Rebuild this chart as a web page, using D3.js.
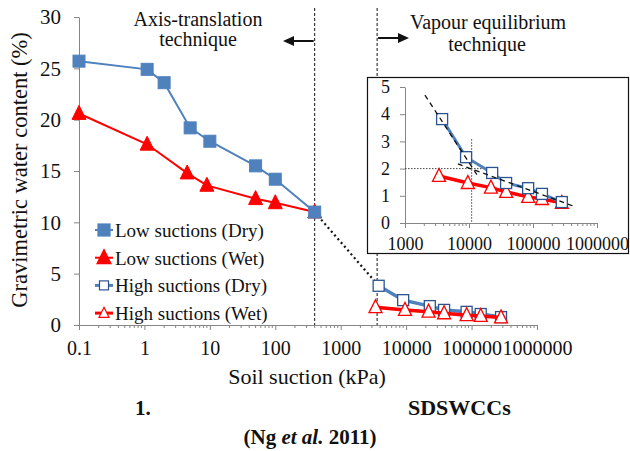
<head>
  <title>SDSWCC</title>
  <style>
    body { margin: 0; background: white; }
    .axis path, .axis line { stroke: #868686; }
  </style>
</head>
<body>
  <div id="chart"></div>
  <script src="https://cdn.jsdelivr.net/npm/d3@7"></script>
  <script>
    // values
    const lowDryX = [0.1, 1.1, 2, 5, 10, 50, 100, 400];
    const lowDryY = [25.7, 24.9, 23.6, 19.2, 17.9, 15.5, 14.2, 11.0];
    const lowWetX = [0.1, 1.1, 4.5, 9, 50, 100, 400];
    const lowWetY = [20.6, 17.6, 14.8, 13.6, 12.3, 11.9, 11.0];
    const highDryX = [3800, 9000, 23000, 38000, 84000, 138000, 282000];
    const highDryY = [3.82, 2.42, 1.84, 1.47, 1.28, 1.07, 0.77];
    const highWetX = [3400, 9600, 22000, 38000, 84000, 138000, 282000];
    const highWetY = [1.73, 1.47, 1.30, 1.14, 0.96, 0.88, 0.74];

    const xTicks = [0.1, 1, 10, 100, 1000, 10000, 100000, 1000000];
    const yTicks = [0, 5, 10, 15, 20, 25, 30];
    const insetXTicks = [1000, 10000, 100000, 1000000];
    const insetYTicks = [0, 1, 2, 3, 4, 5];
    const boundaries = [400, 3600];      // technique boundaries (kPa)
    const tangents = [[[2050, 4.7], [14400, 1.65]], [[6700, 2.17], [467000, 0.59]]];
    const aev = [11000, 2];              // crossing of the tangents

    const legendItems = ['Low suctions (Dry)', 'Low suctions (Wet)', 'High suctions (Dry)', 'High suctions (Wet)'];

    const blue = '#4F81BD', darkBlue = '#2A5490', red = '#FF0000';
    const serif = '"Liberation Serif", "Times New Roman", serif';

    const width = 630, height = 451;
    const svg = d3.select('#chart').append('svg')
      .attr('width', width).attr('height', height)
      .attr('font-family', serif);

    let zip = (xs, ys) => xs.map((x, i) => [x, ys[i]]);
    let tri = w => `M0,${-w*0.58}L${w/2},${w*0.42}L${-w/2},${w*0.42}Z`;
    let minorTicks = (lo, hi) => {
      let out = [];
      for (let d = lo; d < hi; d *= 10)
        for (let k = 2; k < 10; k++) out.push(d * k);
      return out;
    };

    // ---------- main chart ----------
    const x = d3.scaleLog().domain([0.1, 1e6]).range([79, 537]);
    const y = d3.scaleLinear().domain([0, 30]).range([325, 17]);

    svg.append('g').attr('class', 'axis')
      .attr('transform', 'translate(79,0)')
      .call(d3.axisLeft(y).tickValues(yTicks).tickSize(5).tickSizeOuter(0))
      .call(g => g.selectAll('text').attr('font-size', 21).attr('x', -18));

    let xAxis = svg.append('g').attr('class', 'axis')
      .attr('transform', 'translate(0,325)')
      .call(d3.axisBottom(x).tickValues(xTicks).tickFormat(d => String(d)).tickSize(5).tickSizeOuter(0))
      .call(g => g.selectAll('text').attr('font-size', 20).attr('dy', '1.1em'));
    xAxis.selectAll('.minor').data(minorTicks(0.1, 1e6)).enter().append('line')
      .attr('x1', d => x(d)).attr('x2', d => x(d)).attr('y1', 0).attr('y2', 3)
      .attr('stroke', '#868686');

    svg.append('text')
      .attr('transform', 'translate(27,170) rotate(-90)')
      .attr('text-anchor', 'middle').attr('font-size', 22.5)
      .text('Gravimetric water content (%)');
    svg.append('text')
      .attr('x', 307).attr('y', 384).attr('text-anchor', 'middle').attr('font-size', 22)
      .text('Soil suction (kPa)');

    // boundary lines
    svg.selectAll('.bound').data(boundaries).enter().append('line')
      .attr('x1', d => x(d)).attr('x2', d => x(d)).attr('y1', 8).attr('y2', 325)
      .attr('stroke', '#111').attr('stroke-width', 1).attr('stroke-dasharray', '3,2');

    // technique notes
    svg.append('text').attr('x', 198).attr('y', 26).attr('font-size', 20).attr('text-anchor', 'middle').text('Axis-translation');
    svg.append('text').attr('x', 198).attr('y', 46).attr('font-size', 20).attr('text-anchor', 'middle').text('technique');
    svg.append('text').attr('x', 488).attr('y', 29).attr('font-size', 20).attr('text-anchor', 'middle').text('Vapour equilibrium');
    svg.append('text').attr('x', 487).attr('y', 51).attr('font-size', 20).attr('text-anchor', 'middle').text('technique');

    let arrow = (x1, x2, yy) => {
      let dir = Math.sign(x2 - x1);
      svg.append('line').attr('x1', x1).attr('x2', x2 - dir * 8).attr('y1', yy).attr('y2', yy)
        .attr('stroke', '#111').attr('stroke-width', 2);
      svg.append('path')
        .attr('d', `M${x2},${yy}L${x2 - dir*11},${yy - 5}L${x2 - dir*11},${yy + 5}Z`)
        .attr('fill', '#111');
    };
    arrow(x(boundaries[0]) - 1, 283, 41);
    arrow(x(boundaries[1]) + 1, 409, 38);

    // link between last low point and first high point
    svg.append('line')
      .attr('x1', x(lowDryX[lowDryX.length - 1])).attr('y1', y(lowDryY[lowDryY.length - 1]))
      .attr('x2', x(highDryX[0])).attr('y2', y(highDryY[0]))
      .attr('stroke', '#111').attr('stroke-width', 2.2).attr('stroke-dasharray', '2,3');

    let line = (sx, sy) => d3.line().x(d => sx(d[0])).y(d => sy(d[1]));

    function drawSeries(g, sx, sy, pts, color, lw, kind, open, size, mstroke) {
      g.append('path').datum(pts).attr('d', line(sx, sy))
        .attr('fill', 'none').attr('stroke', color).attr('stroke-width', lw);
      let m = g.selectAll(null).data(pts).enter();
      if (kind === 'square') {
        m.append('rect')
          .attr('x', d => sx(d[0]) - size/2).attr('y', d => sy(d[1]) - size/2)
          .attr('width', size).attr('height', size)
          .attr('fill', open ? 'white' : color).attr('stroke', mstroke).attr('stroke-width', open ? 1.3 : 1);
      } else {
        m.append('path').attr('d', tri(size))
          .attr('transform', d => `translate(${sx(d[0])},${sy(d[1])})`)
          .attr('fill', open ? 'white' : color).attr('stroke', mstroke).attr('stroke-width', open ? 1.3 : 1);
      }
    }

    drawSeries(svg, x, y, zip(lowWetX, lowWetY), red, 2, 'tri', false, 14, red);
    drawSeries(svg, x, y, zip(lowDryX, lowDryY), blue, 2, 'square', false, 12, blue);
    drawSeries(svg, x, y, zip(highDryX, highDryY), blue, 3.5, 'square', true, 11, darkBlue);
    drawSeries(svg, x, y, zip(highWetX, highWetY), red, 3.5, 'tri', true, 13, red);

    // legend
    let legend = svg.append('g');
    legendItems.forEach((name, i) => {
      let ly = 230 + i * 27.7;
      let color = i % 2 === 0 ? blue : red;
      legend.append('line').attr('x1', 95).attr('x2', 113).attr('y1', ly).attr('y2', ly)
        .attr('stroke', color).attr('stroke-width', i < 2 ? 2 : 3);
      let open = i >= 2;
      if (i % 2 === 0) {
        let s = open ? 9 : 12;
        legend.append('rect').attr('x', 104 - s/2).attr('y', ly - s/2).attr('width', s).attr('height', s)
          .attr('fill', open ? 'white' : blue).attr('stroke', open ? darkBlue : blue).attr('stroke-width', 1.2);
      } else {
        legend.append('path').attr('d', tri(open ? 10 : 14)).attr('transform', `translate(104,${ly})`)
          .attr('fill', open ? 'white' : red).attr('stroke', red).attr('stroke-width', 1.2);
      }
      legend.append('text').attr('x', 115).attr('y', ly + 7).attr('font-size', 19).text(name);
    });

    // ---------- inset ----------
    const inset = svg.append('g');
    inset.append('rect').attr('x', 367.5).attr('y', 77.5).attr('width', 261).attr('height', 176)
      .attr('fill', 'white').attr('stroke', '#111').attr('stroke-width', 1.2);

    const ix = d3.scaleLog().domain([1000, 1e6]).range([405, 597]);
    const iy = d3.scaleLinear().domain([0, 5]).range([223, 87]);

    inset.append('g').attr('class', 'axis')
      .attr('transform', 'translate(405,0)')
      .call(d3.axisLeft(iy).tickValues(insetYTicks).tickFormat(d3.format('d')).tickSize(5).tickSizeOuter(0))
      .call(g => g.selectAll('text').attr('font-size', 18).attr('x', -15));
    let ixAxis = inset.append('g').attr('class', 'axis')
      .attr('transform', 'translate(0,223)')
      .call(d3.axisBottom(ix).tickValues(insetXTicks).tickFormat(d => String(d)).tickSize(5).tickSizeOuter(0))
      .call(g => g.selectAll('text').attr('font-size', 18).attr('dy', '1.05em'));
    ixAxis.selectAll('.minor').data(minorTicks(1000, 1e6)).enter().append('line')
      .attr('x1', d => ix(d)).attr('x2', d => ix(d)).attr('y1', 0).attr('y2', 3)
      .attr('stroke', '#868686');

    // air-entry construction
    inset.append('line').attr('x1', ix(aev[0])).attr('x2', ix(aev[0])).attr('y1', iy(3.08)).attr('y2', iy(0))
      .attr('stroke', '#444').attr('stroke-width', 1).attr('stroke-dasharray', '1.5,1.5');
    inset.append('line').attr('x1', ix(1000)).attr('x2', ix(22000)).attr('y1', iy(aev[1])).attr('y2', iy(aev[1]))
      .attr('stroke', '#444').attr('stroke-width', 1).attr('stroke-dasharray', '1.5,1.5');

    drawSeries(inset, ix, iy, zip(highWetX, highWetY), red, 3.5, 'tri', true, 13, red);
    drawSeries(inset, ix, iy, zip(highDryX, highDryY), blue, 3, 'square', true, 11, darkBlue);

    inset.selectAll('.tangent').data(tangents).enter().append('path')
      .attr('d', line(ix, iy)).attr('fill', 'none')
      .attr('stroke', '#111').attr('stroke-width', 1.3).attr('stroke-dasharray', '5,4');

    // ---------- caption ----------
    svg.append('text').attr('x', 135).attr('y', 415).attr('font-size', 21).attr('font-weight', 'bold').text('1.');
    svg.append('text').attr('x', 408).attr('y', 415).attr('font-size', 22).attr('font-weight', 'bold').text('SDSWCCs');
    let ref = svg.append('text').attr('x', 310).attr('y', 444).attr('text-anchor', 'middle')
      .attr('font-size', 21).attr('font-weight', 'bold');
    ref.append('tspan').text('(Ng ');
    ref.append('tspan').attr('font-style', 'italic').text('et al.');
    ref.append('tspan').text(' 2011)');

    // force the serif face everywhere (axis groups set their own family)
    svg.selectAll('text').style('font-family', serif).style('fill', '#111');
  </script>
</body>
